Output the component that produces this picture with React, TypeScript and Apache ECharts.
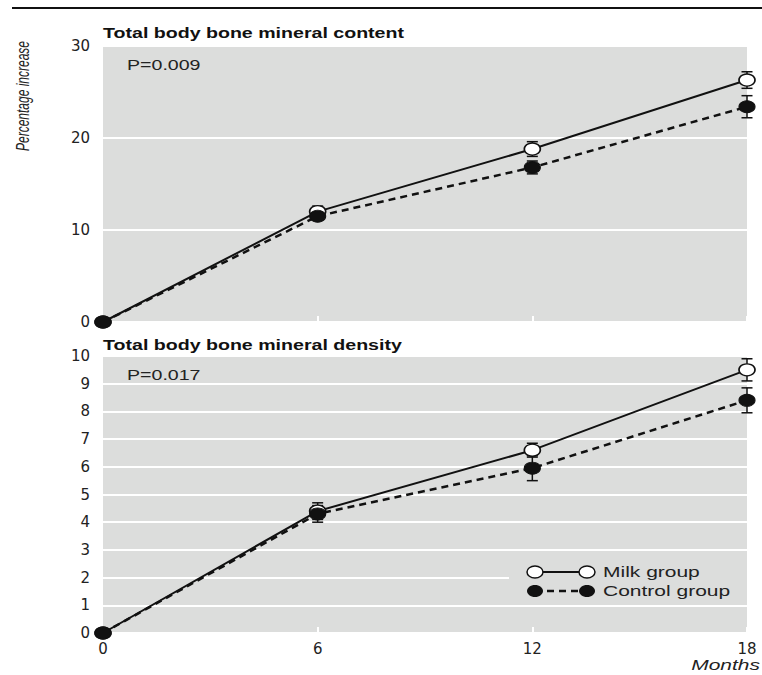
import React, { useEffect, useRef } from "react";
import * as echarts from "echarts";

const months = [0, 6, 12, 18];
const bmcMilk = [0, 12.0, 18.8, 26.3];
const bmcMilkErr = [0, 0.6, 0.8, 0.9];
const bmcControl = [0, 11.5, 16.8, 23.4];
const bmcControlErr = [0, 0.4, 0.7, 1.2];
const bmdMilk = [0, 4.4, 6.6, 9.5];
const bmdMilkErr = [0, 0.3, 0.25, 0.4];
const bmdControl = [0, 4.3, 5.95, 8.4];
const bmdControlErr = [0, 0.3, 0.45, 0.45];
const xTicks = [0, 6, 12, 18];
const panelTitles = ["Total body bone mineral content", "Total body bone mineral density"];
const pValues = ["P=0.009", "P=0.017"];
const legendLabels = ["Milk group", "Control group"];

const FONT = "'Liberation Sans', Arial, sans-serif";
const AXFONT = "'DejaVu Sans', sans-serif";
const GRAY = "#dcdddc";
const SX = 1.4;

function pairs(ys: number[]) {
  return months.map((m, i) => [m, ys[i]]);
}
function errData(ys: number[], es: number[]) {
  return months
    .map((m, i) => [m, ys[i] - es[i], ys[i] + es[i]])
    .filter((d) => d[2] - d[1] > 0);
}

const errRender = (params: any, api: any) => {
  const x = api.value(0);
  const lo = api.coord([x, api.value(1)]);
  const hi = api.coord([x, api.value(2)]);
  const w = 5.5;
  const style = { stroke: "#111", lineWidth: 1.5 };
  return {
    type: "group",
    children: [
      { type: "line", shape: { x1: lo[0], y1: lo[1], x2: hi[0], y2: hi[1] }, style },
      { type: "line", shape: { x1: lo[0] - w, y1: lo[1], x2: lo[0] + w, y2: lo[1] }, style },
      { type: "line", shape: { x1: hi[0] - w, y1: hi[1], x2: hi[0] + w, y2: hi[1] }, style },
    ],
  };
};

export default function App() {
  const ref = useRef<HTMLDivElement>(null);
  useEffect(() => {
    if (!ref.current) return;
    const chart = echarts.init(ref.current, null, { renderer: "svg" });
    const grids = [
      { left: 103, right: 15, top: 46, height: 276 },
      { left: 103, right: 15, top: 356, height: 277 },
    ].map((g) => ({ ...g, show: true, backgroundColor: GRAY, borderWidth: 0 }));

    const xAxis = [0, 1].map((i) => ({
      type: "value",
      gridIndex: i,
      min: 0,
      max: 18,
      interval: 6,
      axisLine: { show: false },
      axisTick: { show: true, inside: true, length: 6, lineStyle: { color: "#ffffff", width: 2 } },
      splitLine: { show: false },
      axisLabel: {
        show: i === 1,
        color: "#222",
        fontSize: 15,
        fontFamily: AXFONT,
        margin: 8,
        customValues: xTicks,
      },
    }));

    const yAxis = [
      { gridIndex: 0, min: 0, max: 30, interval: 10 },
      { gridIndex: 1, min: 0, max: 10, interval: 1 },
    ].map((a) => ({
      type: "value",
      ...a,
      axisLine: { show: false },
      axisTick: { show: false },
      splitLine: { show: true, lineStyle: { color: "#ffffff", width: 2 } },
      axisLabel: { color: "#222", fontSize: 15, fontFamily: AXFONT, margin: 13 },
    }));

    const lineSeries = (gi: number, ys: number[], milk: boolean) => ({
      type: "line",
      xAxisIndex: gi,
      yAxisIndex: gi,
      data: pairs(ys),
      clip: false,
      symbol: "circle",
      symbolSize: [16, 12],
      z: milk ? 3 : 4,
      lineStyle: { color: "#111", width: milk ? 2 : 2.5, type: milk ? "solid" : [7, 5] },
      itemStyle: milk
        ? { color: "#ffffff", borderColor: "#111", borderWidth: 1.5 }
        : { color: "#111", borderColor: "#111", borderWidth: 1 },
    });
    const errSeries = (gi: number, ys: number[], es: number[]) => ({
      type: "custom",
      xAxisIndex: gi,
      yAxisIndex: gi,
      data: errData(ys, es),
      renderItem: errRender,
      clip: false,
      z: 2,
    });

    const txt = (x: number, y: number, text: string, size: number, extra: any = {}) => ({
      type: "text",
      x,
      y,
      scaleX: SX,
      z: 12,
      style: { text, fontSize: size, fontFamily: FONT, fill: "#222", verticalAlign: "middle", ...extra },
    });

    const lx = 535, lx2 = 587, ly1 = 572, ly2 = 591;
    chart.setOption({
      animation: false,
      backgroundColor: "#ffffff",
      grid: grids,
      xAxis,
      yAxis,
      series: [
        errSeries(0, bmcMilk, bmcMilkErr),
        errSeries(0, bmcControl, bmcControlErr),
        lineSeries(0, bmcMilk, true),
        lineSeries(0, bmcControl, false),
        errSeries(1, bmdMilk, bmdMilkErr),
        errSeries(1, bmdControl, bmdControlErr),
        lineSeries(1, bmdMilk, true),
        lineSeries(1, bmdControl, false),
      ],
      graphic: [
        { type: "line", shape: { x1: 12, y1: 8, x2: 762, y2: 8 }, style: { stroke: "#111", lineWidth: 2 } },
        {
          type: "text", x: 22, y: 96, rotation: Math.PI / 2, scaleY: 1.6,
          style: { text: "Percentage increase", fontSize: 12, fontStyle: "italic", fontFamily: FONT, fill: "#222", align: "center", verticalAlign: "middle" },
        },
        txt(103, 33, panelTitles[0], 14, { fontWeight: "bold", fill: "#111" }),
        txt(103, 345, panelTitles[1], 14, { fontWeight: "bold", fill: "#111" }),
        txt(127, 65, pValues[0], 14),
        txt(127, 375, pValues[1], 14),
        txt(760, 665, "Months", 15, { fontStyle: "italic", align: "right" }),
        { type: "rect", shape: { x: 509, y: 560, width: 238, height: 40 }, style: { fill: GRAY }, z: 10 },
        { type: "line", shape: { x1: lx, y1: ly1, x2: lx2, y2: ly1 }, style: { stroke: "#111", lineWidth: 2 }, z: 11 },
        { type: "line", shape: { x1: lx, y1: ly2, x2: lx2, y2: ly2 }, style: { stroke: "#111", lineWidth: 2.5, lineDash: [7, 5] }, z: 11 },
        { type: "ellipse", shape: { cx: lx, cy: ly1, rx: 8, ry: 6 }, style: { fill: "#fff", stroke: "#111", lineWidth: 1.5 }, z: 12 },
        { type: "ellipse", shape: { cx: lx2, cy: ly1, rx: 8, ry: 6 }, style: { fill: "#fff", stroke: "#111", lineWidth: 1.5 }, z: 12 },
        { type: "ellipse", shape: { cx: lx, cy: ly2, rx: 8, ry: 6 }, style: { fill: "#111" }, z: 12 },
        { type: "ellipse", shape: { cx: lx2, cy: ly2, rx: 8, ry: 6 }, style: { fill: "#111" }, z: 12 },
        txt(603, ly1, legendLabels[0], 15),
        txt(603, ly2, legendLabels[1], 15),
      ],
    });
    return () => chart.dispose();
  }, []);
  return (
    <div
      ref={ref}
      style={{ position: "fixed", left: 0, top: 0, width: 762, height: 675 }}
    />
  );
}
